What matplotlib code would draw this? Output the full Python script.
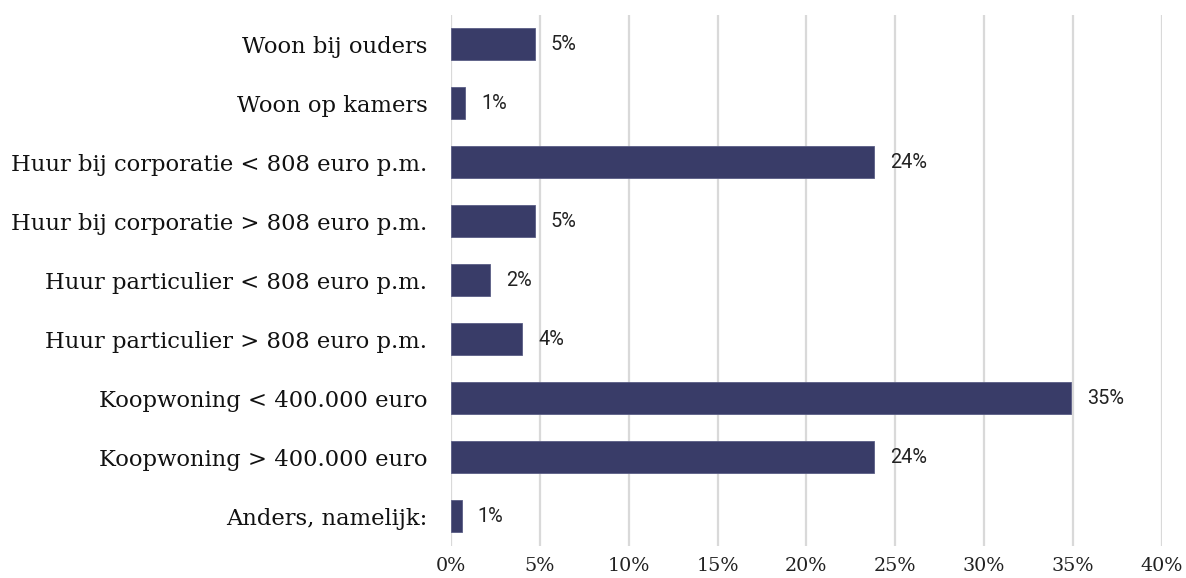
import numpy as np
import matplotlib.pyplot as plt

categorieen = ["Woon bij ouders", "Woon op kamers",
               "Huur bij corporatie < 808 euro p.m.",
               "Huur bij corporatie > 808 euro p.m.",
               "Huur particulier < 808 euro p.m.",
               "Huur particulier > 808 euro p.m.",
               "Koopwoning < 400.000 euro",
               "Koopwoning > 400.000 euro",
               "Anders, namelijk:"]
waarden = [4.7, 0.8, 23.8, 4.7, 2.2, 4.0, 34.9, 23.8, 0.6]
labels = ["5%", "1%", "24%", "5%", "2%", "4%", "35%", "24%", "1%"]
xticks = [0, 5, 10, 15, 20, 25, 30, 35, 40]

fig = plt.figure(figsize=(11.86, 5.78), dpi=100)
ax = fig.add_axes([0.3803, 0.0562, 0.5992, 0.9187])

y = np.arange(len(categorieen))
balken = ax.barh(y, waarden, height=0.54, color="#393c68", edgecolor="#5a5d85",
                 linewidth=0.6, zorder=3)

for rect, lab in zip(balken, labels):
    ax.annotate(lab, (rect.get_width(), rect.get_y() + rect.get_height() / 2),
                xytext=(11.5, 0), textcoords="offset points", va="center",
                ha="left", fontsize=14.3, family="Roboto", color="#222222")

ax.set_ylim(len(categorieen) - 0.5, -0.5)
ax.set_xlim(0, 40)
ax.set_yticks(y)
ax.set_yticklabels(categorieen, family="DejaVu Serif", fontsize=16.3, color="#111111")
ax.set_xticks(xticks)
ax.set_xticklabels([f"{t}%" for t in xticks], family="DejaVu Serif", fontsize=13.8,
                   color="#222222")
ax.tick_params(axis="y", length=0, pad=17)
ax.tick_params(axis="x", length=0, pad=8)
ax.grid(axis="x", color="#d9d9d9", linewidth=1.6, zorder=0)
for s in ax.spines.values():
    s.set_visible(False)

fig.savefig("out.png", dpi=100)
